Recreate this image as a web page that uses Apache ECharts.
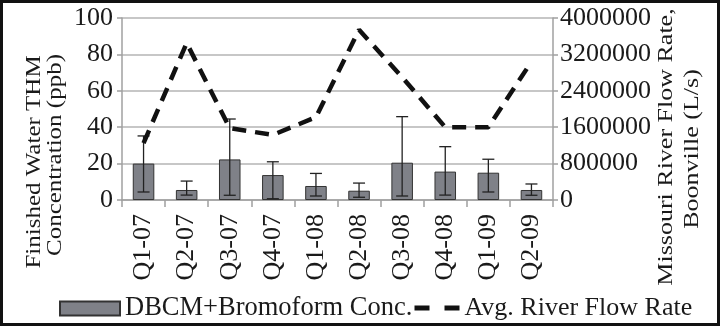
<!DOCTYPE html>
<html>
<head>
<meta charset="utf-8">
<script src="https://cdn.jsdelivr.net/npm/echarts@6/dist/echarts.min.js"></script>
<style>
  html, body { margin: 0; padding: 0; background: #fff; }
  #main { width: 720px; height: 326px; }
</style>
</head>
<body>
<div id="main"></div>
<script>
var chartDom = document.getElementById('main');
var myChart = echarts.init(chartDom);
var option;

// values
let quarters = ['Q1-07', 'Q2-07', 'Q3-07', 'Q4-07', 'Q1-08', 'Q2-08', 'Q3-08', 'Q4-08', 'Q1-09', 'Q2-09'];
let thmConc = [20, 5.5, 22.3, 13.7, 7.7, 5.1, 20.5, 15.6, 15, 5.5];
let errLow = [4.4, 2.7, 2.6, 0.7, 2.2, 1.5, 2.2, 2.7, 4.4, 2.6];
let errHigh = [35.2, 10.4, 44.5, 21, 14.6, 9.3, 45.8, 29.3, 22.4, 8.8];
let flowRate = [1250000, 3450000, 1580000, 1430000, 1820000, 3740000, 2700000, 1600000, 1600000, 3040000];
let leftTicks = [0, 20, 40, 60, 80, 100];
let rightTicks = [0, 800000, 1600000, 2400000, 3200000, 4000000];

let serif = 'Liberation Serif';
let ink = '#1a1a1a';

let errData = [];
for (var i = 0; i < quarters.length; i++) {
  errData.push([i, errLow[i], errHigh[i]]);
}

function nameText(str, x, y, size) {
  return {
    type: 'text',
    x: x,
    y: y,
    rotation: Math.PI / 2,
    scaleY: 0.8,
    silent: true,
    style: {
      text: str,
      font: size + 'px "' + serif + '"',
      fill: ink,
      align: 'center',
      verticalAlign: 'middle'
    }
  };
}

option = {
  animation: false,
  grid: { left: 122, right: 167, top: 18, bottom: 126 },
  legend: [
    {
      left: 59, top: 295, padding: 0,
      itemWidth: 60, itemHeight: 14,
      icon: 'rect',
      data: ['DBCM+Bromoform Conc.'],
      textStyle: { fontFamily: serif, fontSize: 26.5, color: ink }
    },
    {
      left: 412, top: 295, padding: 0,
      itemWidth: 45, itemHeight: 14,
      data: [{
        name: 'Avg. River Flow Rate',
        lineStyle: { type: [15, 15], width: 5, color: '#111' },
        itemStyle: { color: 'transparent', borderWidth: 0, opacity: 0 }
      }],
      textStyle: { fontFamily: serif, fontSize: 26, color: ink }
    }
  ],
  xAxis: {
    type: 'category',
    data: quarters,
    axisLine: { lineStyle: { color: '#a0a0a0', width: 1.5 } },
    axisTick: { show: true, length: 7, lineStyle: { color: '#a0a0a0', width: 1.5 } },
    axisLabel: { rotate: 90, margin: 14, fontFamily: serif, fontSize: 26, color: ink }
  },
  yAxis: [
    {
      type: 'value',
      min: 0, max: 100, interval: 20,
      axisLine: { show: true, lineStyle: { color: '#a0a0a0', width: 1.5 } },
      axisTick: { show: true, length: 5, lineStyle: { color: '#a0a0a0', width: 1.5 } },
      axisLabel: { margin: 9, fontFamily: serif, fontSize: 26, color: ink,
        formatter: function (v) { return leftTicks.indexOf(v) >= 0 ? String(v) : ''; } },
      splitLine: { lineStyle: { color: '#b4b4b4', width: 1.5 } }
    },
    {
      type: 'value',
      min: 0, max: 4000000, interval: 800000,
      axisLine: { show: true, lineStyle: { color: '#a0a0a0', width: 1.5 } },
      axisTick: { show: true, length: 5, lineStyle: { color: '#a0a0a0', width: 1.5 } },
      axisLabel: { margin: 7, fontFamily: serif, fontSize: 26, color: ink,
        formatter: function (v) { return rightTicks.indexOf(v) >= 0 ? String(v) : ''; } },
      splitLine: { show: false }
    }
  ],
  series: [
    {
      name: 'DBCM+Bromoform Conc.',
      type: 'bar',
      data: thmConc,
      barWidth: '50%',
      itemStyle: { color: '#7f8188', borderColor: '#333', borderWidth: 1 }
    },
    {
      name: 'error',
      type: 'custom',
      data: errData,
      z: 5,
      silent: true,
      renderItem: function (params, api) {
        var x = api.coord([api.value(0), 0])[0];
        var lo = api.coord([api.value(0), api.value(1)])[1];
        var hi = api.coord([api.value(0), api.value(2)])[1];
        var half = 6;
        var st = { stroke: '#222', lineWidth: 1.3 };
        return {
          type: 'group',
          children: [
            { type: 'line', shape: { x1: x, y1: lo, x2: x, y2: hi }, style: st },
            { type: 'line', shape: { x1: x - half, y1: hi, x2: x + half, y2: hi }, style: st },
            { type: 'line', shape: { x1: x - half, y1: lo, x2: x + half, y2: lo }, style: st }
          ]
        };
      }
    },
    {
      name: 'Avg. River Flow Rate',
      type: 'line',
      yAxisIndex: 1,
      data: flowRate,
      symbol: 'none',
      z: 6,
      lineStyle: { color: '#111', width: 4.5, type: [14, 9] }
    }
  ],
  graphic: [
    nameText('Finished Water THM', 35, 162, 25),
    nameText('Concentration (ppb)', 56, 155, 25),
    nameText('Missouri River Flow Rate,', 667, 147, 26),
    nameText('Boonville (L/s)', 693, 149, 26),
    {
      type: 'rect',
      silent: true,
      shape: { x: 1.5, y: 1.5, width: 717, height: 323 },
      style: { fill: 'none', stroke: '#111', lineWidth: 3 }
    }
  ]
};

option && myChart.setOption(option);
</script>
</body>
</html>
